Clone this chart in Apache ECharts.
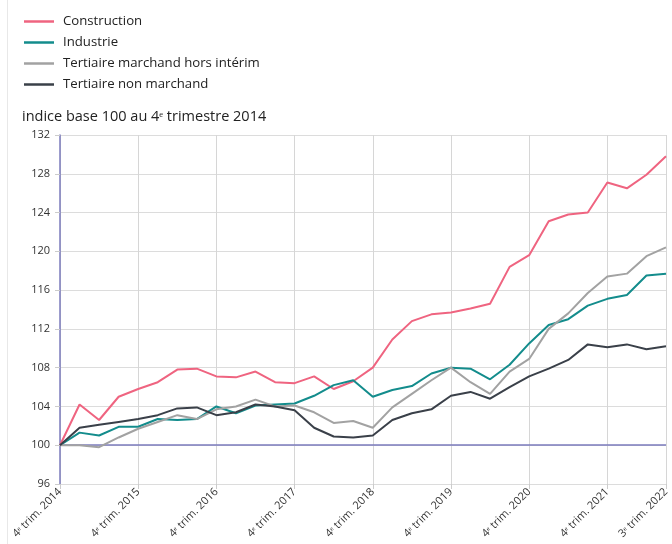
<!DOCTYPE html>
<html>
<head>
<meta charset="utf-8">
<script src="https://cdn.jsdelivr.net/npm/echarts@6/dist/echarts.min.js"></script>
<style>
  html, body { margin: 0; padding: 0; background: #fff; }
  #main { width: 672px; height: 544px; }
</style>
</head>
<body>
<div id="main"></div>
<script>
// trimestres, du 4e trim. 2014 au 3e trim. 2022
var categories = [
    '4\u1d49 trim. 2014',
    '1\u1d49\u02b3 trim. 2015', '2\u1d49 trim. 2015', '3\u1d49 trim. 2015', '4\u1d49 trim. 2015',
    '1\u1d49\u02b3 trim. 2016', '2\u1d49 trim. 2016', '3\u1d49 trim. 2016', '4\u1d49 trim. 2016',
    '1\u1d49\u02b3 trim. 2017', '2\u1d49 trim. 2017', '3\u1d49 trim. 2017', '4\u1d49 trim. 2017',
    '1\u1d49\u02b3 trim. 2018', '2\u1d49 trim. 2018', '3\u1d49 trim. 2018', '4\u1d49 trim. 2018',
    '1\u1d49\u02b3 trim. 2019', '2\u1d49 trim. 2019', '3\u1d49 trim. 2019', '4\u1d49 trim. 2019',
    '1\u1d49\u02b3 trim. 2020', '2\u1d49 trim. 2020', '3\u1d49 trim. 2020', '4\u1d49 trim. 2020',
    '1\u1d49\u02b3 trim. 2021', '2\u1d49 trim. 2021', '3\u1d49 trim. 2021', '4\u1d49 trim. 2021',
    '1\u1d49\u02b3 trim. 2022', '2\u1d49 trim. 2022', '3\u1d49 trim. 2022'
];

var construction = [100, 104.2, 102.6, 105.0, 105.8, 106.5, 107.8, 107.9, 107.1, 107.0, 107.6, 106.5,
    106.4, 107.1, 105.8, 106.6, 108.0, 110.9, 112.8, 113.5, 113.7, 114.1, 114.6, 118.4,
    119.6, 123.1, 123.8, 124.0, 127.1, 126.5, 127.9, 129.8];
var industrie = [100, 101.3, 101.0, 101.9, 101.9, 102.7, 102.6, 102.7, 104.0, 103.3, 104.1, 104.2,
    104.3, 105.1, 106.2, 106.7, 105.0, 105.7, 106.1, 107.4, 108.0, 107.9, 106.8, 108.3,
    110.5, 112.4, 113.0, 114.4, 115.1, 115.5, 117.5, 117.7];
var tertiaireMarchand = [100, 100.0, 99.8, 100.8, 101.7, 102.4, 103.1, 102.7, 103.7, 104.0, 104.7, 104.0,
    104.1, 103.4, 102.3, 102.5, 101.8, 103.9, 105.3, 106.7, 108.0, 106.5, 105.3, 107.6,
    108.9, 112.0, 113.6, 115.7, 117.4, 117.7, 119.5, 120.4];
var tertiaireNonMarchand = [100, 101.8, 102.1, 102.4, 102.7, 103.1, 103.8, 103.9, 103.1, 103.4, 104.2, 104.0,
    103.6, 101.8, 100.9, 100.8, 101.0, 102.6, 103.3, 103.7, 105.1, 105.5, 104.8, 106.0,
    107.1, 107.9, 108.8, 110.4, 110.1, 110.4, 109.9, 110.2];

var seriesNames = ['Construction', 'Industrie', 'Tertiaire marchand hors intérim', 'Tertiaire non marchand'];
var seriesColors = ['#ef6480', '#138c8c', '#a2a2a2', '#3a4049'];

var yMin = 96, yMax = 132, yStep = 4;
var baseLine = 100;

var font = 'Open Sans';
var axisBlue = '#7b7bbd';

// un repère par an (4e trimestre) + le dernier trimestre
function yearTick(idx) {
    return idx % 4 === 0 || idx === categories.length - 1;
}

var myChart = echarts.init(document.getElementById('main'));

function makeLine(name, data, i) {
    return {
        name: name,
        type: 'line',
        data: data,
        symbol: 'none',
        lineStyle: { width: 2, color: seriesColors[i] },
        itemStyle: { color: seriesColors[i] },
        z: 3
    };
}

var series = [
    makeLine(seriesNames[0], construction, 0),
    makeLine(seriesNames[1], industrie, 1),
    makeLine(seriesNames[2], tertiaireMarchand, 2),
    makeLine(seriesNames[3], tertiaireNonMarchand, 3)
];
// ligne de base 100
series[0].markLine = {
    silent: true,
    symbol: 'none',
    label: { show: false },
    lineStyle: { color: axisBlue, type: 'solid', width: 1.5 },
    data: [{ yAxis: baseLine }],
    z: 2
};

var option = {
    animation: false,
    textStyle: { fontFamily: font },
    title: {
        text: 'indice base 100 au 4\u1d49 trimestre 2014',
        left: 22,
        top: 109,
        padding: 0,
        textStyle: { fontFamily: font, fontSize: 14.5, fontWeight: 'normal', color: '#222' }
    },
    legend: {
        orient: 'vertical',
        left: 24,
        top: 11,
        padding: 0,
        icon: 'rect',
        itemWidth: 30,
        itemHeight: 2.5,
        itemGap: 0,
        data: seriesNames,
        textStyle: { fontFamily: font, fontSize: 13.2, color: '#222', lineHeight: 21, padding: [0, 0, 0, 4] }
    },
    graphic: [{
        type: 'line',
        shape: { x1: 7.5, y1: 0, x2: 7.5, y2: 544 },
        style: { stroke: '#e8e8e8', lineWidth: 1 },
        silent: true
    }],
    grid: {
        left: 60,
        right: -1,
        top: 135,
        bottom: 60
    },
    xAxis: {
        type: 'category',
        boundaryGap: false,
        data: categories,
        axisLine: { show: true, lineStyle: { color: '#dcdcdc' } },
        axisTick: { show: true, interval: yearTick, length: 5, lineStyle: { color: '#cccccc' } },
        axisLabel: {
            interval: yearTick,
            rotate: 45,
            fontFamily: font,
            fontSize: 11,
            color: '#333',
            margin: 6
        },
        splitLine: { show: true, interval: yearTick, lineStyle: { color: '#d6d6d6' } }
    },
    yAxis: {
        type: 'value',
        min: yMin,
        max: yMax,
        interval: yStep,
        axisLine: { show: true, lineStyle: { color: axisBlue, width: 1.5 } },
        axisTick: { show: true, length: 5, lineStyle: { color: '#cccccc' } },
        axisLabel: { fontFamily: font, fontSize: 11, color: '#333', margin: 10 },
        splitLine: { show: true, lineStyle: { color: '#dcdcdc' } }
    },
    series: series
};

myChart.setOption(option);
window.addEventListener('resize', function () {
    myChart.resize();
});
</script>
</body>
</html>
